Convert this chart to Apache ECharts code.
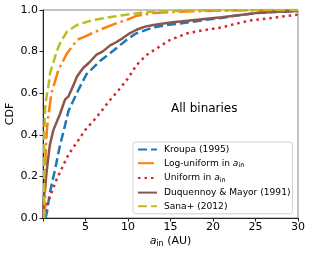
<!DOCTYPE html>
<html>
<head>
<meta charset="utf-8">
<script src="https://cdn.jsdelivr.net/npm/echarts@6/dist/echarts.min.js"></script>
<style>html,body{margin:0;padding:0;background:#fff;}#c{width:312px;height:254px;}</style>
</head>
<body>
<div id="c"></div>
<script>
// Kroupa (1995)
var kroupaX = [0.3, 0.45, 0.8, 1.4, 2.0, 2.5, 3.0, 3.6, 4.15, 5.1, 6.7, 8.3, 10.0, 11.0, 13.0, 15.0, 17.0, 19.0, 21.0, 23.0, 25.0, 27.0, 30.0];
var kroupaY = [0, 0.025, 0.12, 0.23, 0.35, 0.43, 0.515, 0.567, 0.615, 0.69, 0.755, 0.805, 0.862, 0.888, 0.917, 0.93, 0.94, 0.952, 0.962, 0.975, 0.985, 0.99, 0.995];
// Log-uniform in a_in
var logX = [0.1, 0.25, 0.3, 0.45, 0.62, 1.0, 1.8, 2.8, 4.0, 4.7, 6.7, 8.7, 10.0, 11.0, 13.0, 16.0, 20.0, 25.0, 30.0];
var logY = [0, 0.05, 0.3, 0.42, 0.49, 0.6, 0.71, 0.79, 0.856, 0.868, 0.905, 0.937, 0.955, 0.972, 0.985, 0.992, 0.996, 0.999, 1];
// Uniform in a_in
var uniX = [0.1, 0.25, 0.8, 1.6, 2.4, 3.0, 4.0, 5.0, 6.0, 6.7, 7.7, 9.0, 10.0, 11.0, 12.2, 13.4, 14.9, 16.9, 18.9, 20.4, 21.2, 22.8, 24.4, 25.9, 27.5, 29.4, 30];
var uniY = [0, 0.04, 0.1, 0.185, 0.255, 0.305, 0.365, 0.425, 0.47, 0.505, 0.558, 0.62, 0.672, 0.735, 0.784, 0.816, 0.855, 0.887, 0.903, 0.912, 0.918, 0.935, 0.95, 0.957, 0.965, 0.975, 0.978];
// Duquennoy & Mayor (1991)
var dmX = [0.05, 0.05, 0.1, 0.25, 0.45, 0.8, 1.2, 1.6, 2.0, 2.6, 3.0, 3.6, 4.0, 4.7, 5.5, 6.3, 7.0, 7.9, 8.6, 9.4, 10.2, 11.0, 12.0, 13.0, 15.0, 17.0, 19.0, 21.0, 23.0, 25.0, 27.0, 30.0];
var dmY = [0, 0.07, 0.10, 0.15, 0.23, 0.35, 0.42, 0.46, 0.5, 0.57, 0.585, 0.64, 0.68, 0.72, 0.75, 0.785, 0.80, 0.83, 0.845, 0.865, 0.888, 0.905, 0.92, 0.928, 0.94, 0.948, 0.957, 0.965, 0.975, 0.985, 0.99, 0.995];
// Sana+ (2012)
var sanaX = [0.15, 0.15, 0.24, 0.4, 0.62, 0.85, 1.2, 1.6, 2.0, 2.8, 4.0, 5.9, 8.2, 10.0, 12.0, 15.0, 20.0, 30.0];
var sanaY = [0, 0.4, 0.52, 0.58, 0.63, 0.7, 0.744, 0.8, 0.84, 0.895, 0.928, 0.952, 0.968, 0.978, 0.99, 0.995, 0.999, 1];

var xTicks = [5, 10, 15, 20, 25, 30];
var yTicks = ['0.0', '0.2', '0.4', '0.6', '0.8', '1.0'];
var names = ['Kroupa (1995)', 'Log-uniform in a_in', 'Uniform in a_in', 'Duquennoy & Mayor (1991)', 'Sana+ (2012)'];

function pairs(xs, ys) { return xs.map(function (x, i) { return [x, ys[i]]; }); }

var FONT = 'DejaVu Sans';
var chart = echarts.init(document.getElementById('c'), null, { renderer: 'canvas' });

function mkSeries(name, xs, ys, color, dash, w) {
  return {
    name: name, type: 'line', data: pairs(xs, ys),
    showSymbol: false, symbol: 'none', silent: true, animation: false,
    lineStyle: { color: color, width: w, type: dash, cap: 'butt', join: 'round' },
    itemStyle: { color: color }
  };
}

var option = {
  animation: false,
  textStyle: { fontFamily: FONT },
  grid: { left: 43, right: 14, top: 10, bottom: 36, containLabel: false, outerBoundsMode: 'none',
    show: true, borderColor: '#888', borderWidth: 1, backgroundColor: 'transparent' },
  legend: {
    orient: 'vertical', left: 133, top: 142,
    itemWidth: 19, itemHeight: 9, itemGap: 4.7,
    padding: [3, 2, 3, 4],
    backgroundColor: 'rgba(255,255,255,0.8)', borderColor: '#d0d0d0', borderWidth: 1, borderRadius: 3,
    itemStyle: { opacity: 0 },
    data: names,
    formatter: function (n) {
      if (n.indexOf('a_in') >= 0) return '{t|' + n.replace(' a_in', ' ') + '}{a|a}{s|in}';
      return '{t|' + n + '}';
    },
    textStyle: {
      fontFamily: FONT, fontSize: 9.1, color: '#000', padding: [0, 0, 0, 2],
      rich: {
        t: { fontFamily: FONT, fontSize: 9.1, color: '#000' },
        a: { fontFamily: FONT, fontSize: 9.1, fontStyle: 'italic', color: '#000' },
        s: { fontFamily: FONT, fontSize: 6.5, color: '#000', padding: [4, 0, 0, 0] }
      }
    }
  },
  xAxis: {
    type: 'value', min: 0, max: 30, interval: 5,
    name: '{a|a}{s|in}{t| (AU)}', nameLocation: 'middle', nameGap: 17, nameMoveOverlap: false,
    nameTextStyle: {
      rich: {
        a: { fontFamily: FONT, fontSize: 11, fontStyle: 'italic', color: '#000' },
        s: { fontFamily: FONT, fontSize: 8, color: '#000', padding: [5, 0, 0, 0] },
        t: { fontFamily: FONT, fontSize: 11, color: '#000' }
      }
    },
    axisLine: { show: true, lineStyle: { color: '#222', width: 1 } },
    axisTick: { show: true, length: 3.5, lineStyle: { color: '#222' } },
    axisLabel: { fontFamily: FONT, fontSize: 11, color: '#000', margin: 4,
      formatter: function (v) { return xTicks.indexOf(v) >= 0 ? String(v) : ''; } },
    splitLine: { show: false }
  },
  yAxis: {
    type: 'value', min: 0, max: 1, interval: 0.2,
    name: 'CDF', nameLocation: 'middle', nameGap: 27, nameRotate: 90, nameMoveOverlap: false,
    nameTextStyle: { fontFamily: FONT, fontSize: 11, color: '#000' },
    axisLine: { show: true, lineStyle: { color: '#222', width: 1 } },
    axisTick: { show: true, length: 3.5, lineStyle: { color: '#222' } },
    axisLabel: { fontFamily: FONT, fontSize: 11, color: '#000', margin: 5,
      formatter: function (v) { return yTicks[Math.round(v / 0.2)]; } },
    splitLine: { show: false }
  },
  graphic: [{
    type: 'text', left: 171, top: 103, silent: true,
    style: { text: 'All binaries', font: '12px "DejaVu Sans"', fill: '#000' }
  }],
  series: [
    mkSeries(names[0], kroupaX, kroupaY, '#1f77b4', [9, 4], 2.5),
    mkSeries(names[1], logX, logY, '#ff7f0e', [16, 4, 2.5, 4], 2.5),
    mkSeries(names[2], uniX, uniY, '#d62728', [2.5, 4], 2.5),
    mkSeries(names[3], dmX, dmY, '#8c564b', 'solid', 2.5),
    mkSeries(names[4], sanaX, sanaY, '#bcbd22', [9, 4], 2.5)
  ]
};
chart.setOption(option);
</script>
</body>
</html>
